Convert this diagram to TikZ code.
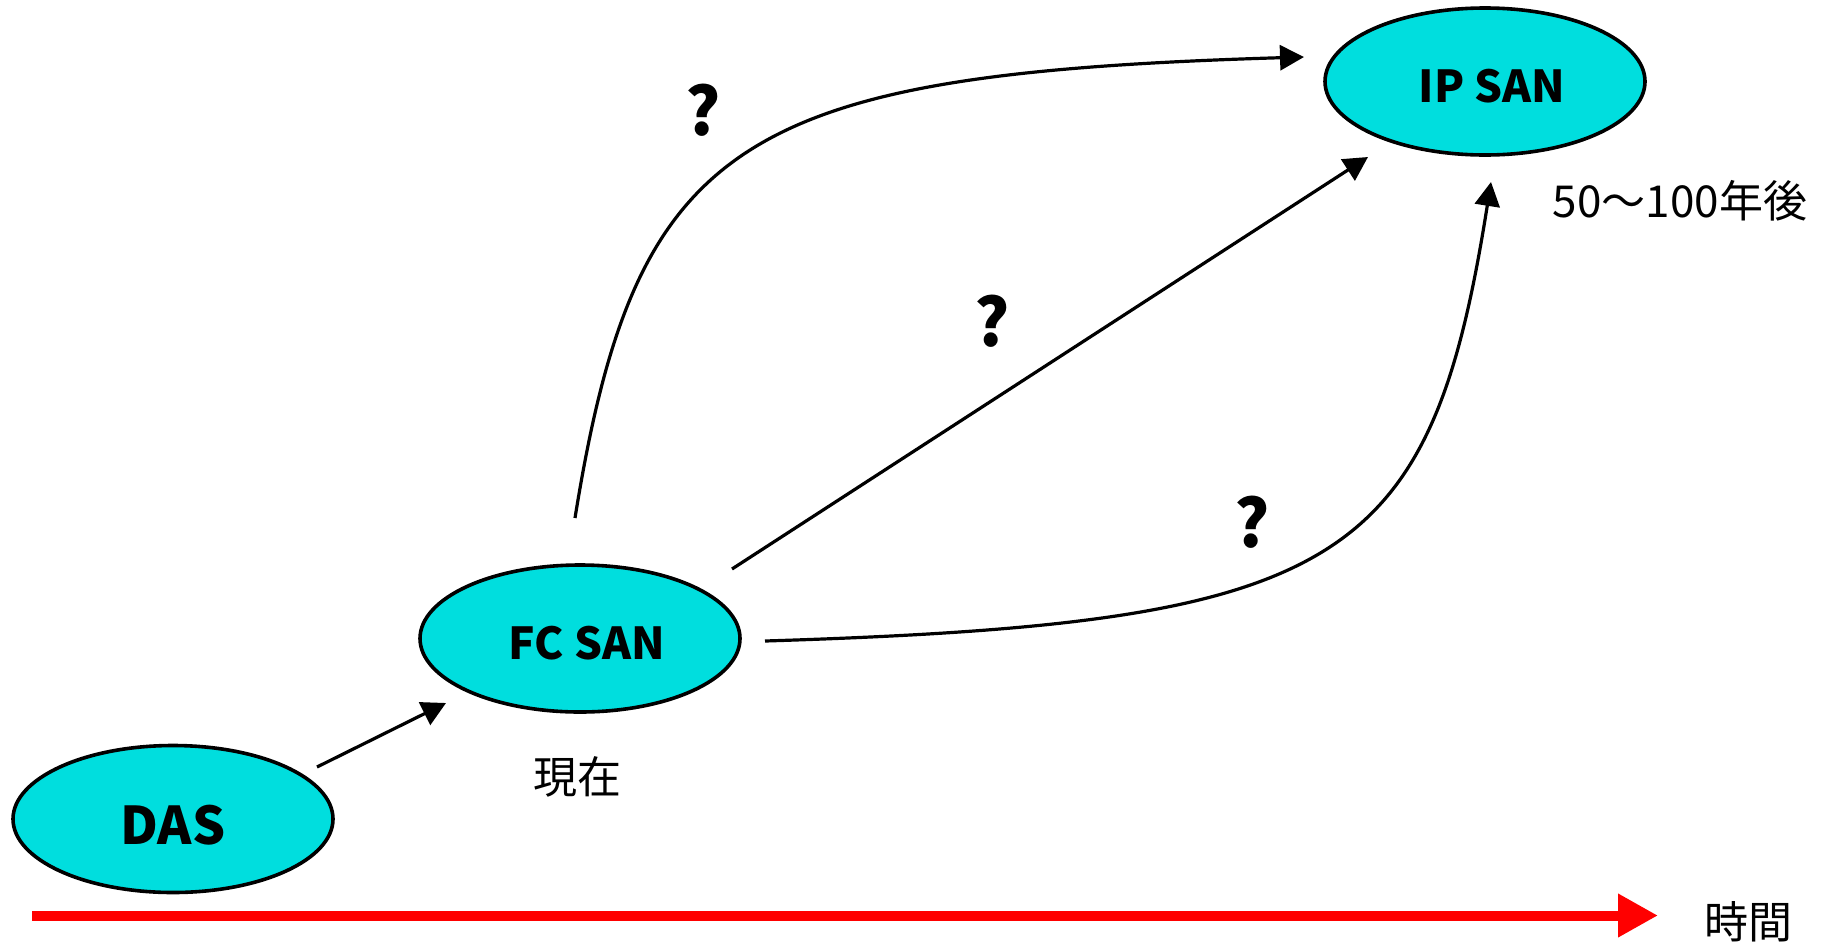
\documentclass[tikz,border=0pt]{standalone}
\usepackage{fontspec}
\setmainfont{Noto Sans CJK JP}
\usetikzlibrary{arrows.meta,shapes.geometric}
\definecolor{sancyan}{RGB}{0,222,222}
\definecolor{timered}{RGB}{255,0,0}
\begin{document}
\begin{tikzpicture}[x=0.5pt,y=-0.5pt,
  sannode/.style={ellipse,draw=black,line width=1.8pt,fill=sancyan,minimum width=160pt,minimum height=73.5pt,inner sep=0pt},
  santext/.style={font=\fontsize{22}{22}\selectfont\bfseries,inner sep=0pt},
  conn/.style={line width=1.6pt,-{Triangle[length=12pt,width=12.5pt]}},
  qmark/.style={font=\fontsize{33}{33}\selectfont\bfseries,inner sep=0pt},
  jlabel/.style={font=\fontsize{22}{22}\selectfont,inner sep=0pt}]
\useasboundingbox (0,0) rectangle (1825,948);
% nodes
\node[sannode] (das) at (173,819) {};
\node[sannode] (fc) at (580,638.5) {};
\node[sannode] (ip) at (1485,81.5) {};
\node[santext,font=\fontsize{26}{26}\selectfont\bfseries] (dastext) at ([yshift=-3pt]das.center) {DAS};
\node[santext] (fctext) at ([xshift=3.5pt,yshift=-2.5pt]fc.center) {FC SAN};
\node[santext] (iptext) at ([xshift=3.5pt,yshift=-2.5pt]ip.center) {IP SAN};
% labels
\node[jlabel] (now) at (577,777) {現在};
\node[jlabel] (future) at (1680,201) {50～100年後};
\node[jlabel] (time) at (1748,922) {時間};
\node[qmark] (q1) at (703,110) {?};
\node[qmark] (q2) at (992,321) {?};
\node[qmark] (q3) at (1252,522) {?};
% connector ends
\coordinate (dasout) at (317,767);
\coordinate (fcin) at (446,703);
\coordinate (fctop) at (575,518);
\coordinate (fcmid) at (732,569);
\coordinate (fcright) at (765,641);
\coordinate (ipleft) at (1304,57);
\coordinate (ipdiag) at (1368,157);
\coordinate (ipbottom) at (1491,182);
\coordinate (tstart) at (32,915.5);
\coordinate (tend) at (1658,915.5);
% connectors
\draw[conn] (dasout) -- (fcin);
\draw[conn] (fcmid) -- (ipdiag);
\draw[conn] (fctop) .. controls (636,139) and (738,74) .. (ipleft);
\draw[conn] (fcright) .. controls (1343,623) and (1430,568) .. (ipbottom);
% time axis
\draw[timered,line width=5pt,-{Triangle[length=20pt,width=20.5pt]}] (tstart) -- (tend);
\end{tikzpicture}
\end{document}
